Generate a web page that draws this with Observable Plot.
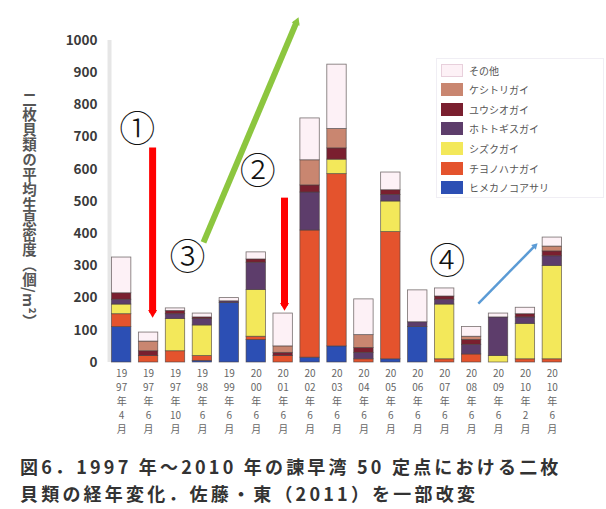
<!DOCTYPE html>
<html><head><meta charset="utf-8">
<script src="https://cdn.jsdelivr.net/npm/d3@7"></script>
<script src="https://cdn.jsdelivr.net/npm/@observablehq/plot@0.6"></script>
<style>
body{margin:0;background:#fff;font-family:"Noto Sans CJK JP","Noto Sans",sans-serif;}
#wrap{position:relative;width:606px;height:509px;overflow:hidden;background:#fff;}
#ytitle{position:absolute;left:19px;top:92px;writing-mode:vertical-rl;font-size:14.5px;font-weight:bold;color:#555;letter-spacing:0.5px;}
#legend{position:absolute;left:436px;top:58px;width:166px;height:138px;background:rgba(255,255,255,0.9);border:1px solid #f0eef4;}
#legend .row{position:absolute;left:4px;height:14px;display:flex;align-items:center;}
#legend .sw{width:22px;height:13px;margin-right:6px;}
#legend .tx{font-size:10px;color:#555;white-space:nowrap;}
#caption{position:absolute;left:20px;top:453px;font-size:18px;line-height:27px;color:#333;font-weight:bold;letter-spacing:3.2px;white-space:nowrap;}
</style></head>
<body><div id="wrap"><div id="chart"></div><div id="ytitle"></div><div id="legend"></div><div id="caption"></div></div>
<script>
// ---- data ----
const years  = ["1997","1997","1997","1998","1999","2000","2001","2002","2003","2004","2005","2006","2007","2008","2009","2010","2010"];
const months = ["4","6","10","6","6","6","6","6","6","6","6","6","6","6","6","2","6"];
const species = ["ヒメカノコアサリ","チヨノハナガイ","シズクガイ","ホトトギスガイ","ユウシオガイ","ケシトリガイ","その他"];
const colors  = ["#2c4fb4","#e4532d","#f3e85a","#5d3d6b","#7a1f2f","#c98670","#fdf1f6"];
const blueV   = [110,  0,  0,  5,185, 70,  0, 15, 50,  0, 10,110,  0,  0,  0,  0,  0];
const orangeV = [ 40, 20, 35, 15,  0, 10, 20,395,535, 10,395,  0, 10, 25,  0, 10, 10];
const yellowV = [ 30,  0,100, 95,  0,145,  0,  0, 45,  0, 95,  0,170,  0, 20,110,290];
const purpleV = [ 15,  0, 15, 20,  5, 85,  0,118,  0, 20, 20, 15, 15, 30,120, 20, 30];
const maroonV = [ 20, 15, 10,  5,  0, 10, 10, 22, 35, 15, 15,  0, 10, 15,  0, 10, 15];
const salmonV = [  0, 30,  0,  0,  0,  0, 20, 78, 60, 40,  0,  0,  0, 10,  0,  0, 15];
const otherV  = [111, 28,  8, 12, 10, 22,102,130,200,111, 55, 99, 25, 30, 12, 20, 28];
const seriesValues = [blueV, orangeV, yellowV, purpleV, maroonV, salmonV, otherV];
const yTicks = [0,100,200,300,400,500,600,700,800,900,1000];
// annotations (data space: x = survey index, y = density)
const circled = [{t:"①",x:0.58,y:720},{t:"②",x:5.06,y:590},{t:"③",x:2.45,y:322},{t:"④",x:12.1,y:311}];
const arrows = [
  {x1:1.15,y1:668,x2:1.15,y2:155,c:"#ff0000",w:7,r:10,rot:180},
  {x1:6.05,y1:512,x2:6.05,y2:177,c:"#ff0000",w:7,r:10,rot:180},
  {x1:3.04,y1:373,x2:6.5,y2:1058,c:"#8cc63f",w:6,r:9,rot:23},
  {x1:13.25,y1:183,x2:15.35,y2:362,c:"#5b9bd5",w:2.5,r:5.5,rot:45}
];
// ---- build stacked table ----
const rects = [];
years.forEach((yr, i) => {
  let acc = 0;
  species.forEach((s, k) => {
    const v = seriesValues[k][i];
    if (v > 0) rects.push({i, s, y1: acc, y2: acc + v});
    acc += v;
  });
});
const vlabel = i => {
  const y = years[i];
  return [y.slice(0,2), y.slice(2), "年", months[i], "月"].join("\n");
};
const chart = Plot.plot({
  width: 606, height: 450,
  marginLeft: 105, marginRight: 38, marginTop: 40, marginBottom: 88,
  style: {fontFamily: '"Noto Sans CJK JP", sans-serif', background: "transparent", overflow: "visible"},
  x: {domain: [-0.6, 16.6], axis: null},
  y: {domain: [0, 1000], axis: null},
  color: {domain: species, range: colors},
  marks: [
    Plot.ruleX([-0.45], {stroke: "#e6e6e6", strokeWidth: 4}),
    Plot.rect(rects, {x1: d => d.i - 0.36, x2: d => d.i + 0.36, y1: "y1", y2: "y2", fill: "s", stroke: "#4a4040", strokeWidth: 0.8, strokeOpacity: 0.75}),
    Plot.axisY({ticks: yTicks, tickFormat: d => String(d), tickSize: 0, tickPadding: 8, fontSize: 13.5, fontWeight: "bold", fill: "#3a3a3a", anchor: "left", label: null}),
    Plot.axisX({ticks: d3.range(years.length), tickFormat: vlabel, tickSize: 0, tickPadding: 5, fontSize: 10, fill: "#666", lineHeight: 1.4, anchor: "bottom", label: null}),
    Plot.link(arrows, {x1: "x1", y1: "y1", x2: "x2", y2: "y2", stroke: "c", strokeWidth: "w"}),
    Plot.dot(arrows, {x: "x2", y: "y2", symbol: "triangle", r: "r", fill: "c", stroke: "none", rotate: "rot"}),
    Plot.text(circled, {x: "x", y: "y", text: "t", fontSize: 36, fill: "#111", fontWeight: 300})
  ]
});
document.getElementById("chart").appendChild(chart);
document.getElementById("ytitle").textContent = "二枚貝類の平均生息密度（個/m²）";
const lg = document.getElementById("legend");
[...species].reverse().forEach((s, j) => {
  const k = species.length - 1 - j;
  const row = document.createElement("div");
  row.className = "row"; row.style.top = (4 + j * 19.6) + "px";
  row.innerHTML = `<div class="sw" style="background:${colors[k]};${k===6?'border:1px solid #e8d0dc;box-sizing:border-box;':''}"></div><div class="tx">${s}</div>`;
  lg.appendChild(row);
});
document.getElementById("caption").innerHTML = "図6．1997 年～2010 年の諫早湾 50 定点における二枚<br>貝類の経年変化．佐藤・東（2011）を一部改変";
</script></body></html>
